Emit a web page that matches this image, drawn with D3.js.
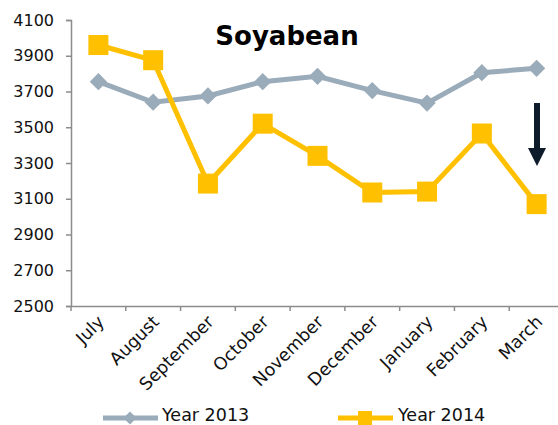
<!DOCTYPE html>
<html lang="en">
<head>
  <meta charset="UTF-8">
  <title>Soyabean</title>
  <style>
    html, body { margin: 0; background: #fff; }
    svg { display: block; }
    svg text { font-family: "DejaVu Sans", sans-serif; }
  </style>
</head>
<body>
  <div id="main"></div>
  <script src="https://cdn.jsdelivr.net/npm/d3@7"></script>
  <script>
    // data
    const months = ['July', 'August', 'September', 'October', 'November', 'December', 'January', 'February', 'March']
    const year2013 = [3755, 3640, 3675, 3755, 3785, 3705, 3635, 3805, 3830]
    const year2014 = [3960, 3875, 3185, 3520, 3340, 3135, 3140, 3465, 3070]
    const yTicks = [2500, 2700, 2900, 3100, 3300, 3500, 3700, 3900, 4100]

    const W = 558, H = 425
    const svg = d3.select('#main').append('svg').attr('width', W).attr('height', H)

    const x = d3.scaleBand().domain(months).range([71, 564])
    const y = d3.scaleLinear().domain([2500, 4100]).range([306, 20])

    // y axis
    const yAxis = svg.append('g').attr('transform', 'translate(71,0)')
      .call(d3.axisLeft(y).tickValues(yTicks).tickFormat(d3.format('d')).tickSize(5).tickPadding(12))
    yAxis.selectAll('text').attr('font-size', 16).attr('fill', '#111')

    // x axis
    const xAxis = svg.append('g').attr('transform', 'translate(0,306)')
      .call(d3.axisBottom(x).tickSize(0))
    xAxis.selectAll('.tick text').remove()
    xAxis.selectAll('.tick line').remove()
    xAxis.selectAll('.xt')
      .data(months.concat(['end']))
      .join('line')
      .attr('x1', (d, i) => i < months.length ? x(d) : x.range()[1])
      .attr('x2', (d, i) => i < months.length ? x(d) : x.range()[1])
      .attr('y1', 0).attr('y2', 5)
    xAxis.selectAll('.xl')
      .data(months)
      .join('text')
      .attr('text-anchor', 'end')
      .attr('font-size', 17.5)
      .attr('fill', '#111')
      .attr('transform', d => `translate(${x(d) + x.bandwidth() / 2 + 7},17) rotate(-45)`)
      .text(d => d)

    svg.selectAll('.domain, line').attr('stroke', '#8c8c8c').attr('stroke-width', 1.5)

    const cx = d => x(d) + x.bandwidth() / 2
    const line = d3.line().x(d => cx(d.m)).y(d => y(d.v))
    const s13 = months.map((m, i) => ({ m, v: year2013[i] }))
    const s14 = months.map((m, i) => ({ m, v: year2014[i] }))

    // Year 2013
    svg.append('path').datum(s13).attr('d', line)
      .attr('fill', 'none').attr('stroke', '#9aabba').attr('stroke-width', 5)
    svg.selectAll('.d13').data(s13).join('path')
      .attr('d', d3.symbol(d3.symbolDiamond2, 190))
      .attr('transform', d => `translate(${cx(d.m)},${y(d.v)})`)
      .attr('fill', '#9aabba')

    // Year 2014
    svg.append('path').datum(s14).attr('d', line)
      .attr('fill', 'none').attr('stroke', '#ffc000').attr('stroke-width', 5)
    svg.selectAll('.s14').data(s14).join('rect')
      .attr('x', d => cx(d.m) - 10).attr('y', d => y(d.v) - 10)
      .attr('width', 20).attr('height', 20)
      .attr('fill', '#ffc000')

    // title
    svg.append('text').attr('x', 287).attr('y', 45)
      .attr('text-anchor', 'middle').attr('font-size', 26).attr('font-weight', 'bold')
      .attr('fill', '#000').text('Soyabean')

    // arrow
    svg.append('line').attr('x1', 537).attr('x2', 537).attr('y1', 103).attr('y2', 150)
      .attr('stroke', '#0d1b2a').attr('stroke-width', 6)
    svg.append('path').attr('d', 'M528,148 L546,148 L537,166 Z').attr('fill', '#0d1b2a')

    // legend
    const leg = svg.append('g')
    leg.append('line').attr('x1', 103).attr('x2', 158).attr('y1', 418).attr('y2', 418)
      .attr('stroke', '#9aabba').attr('stroke-width', 5)
    leg.append('path').attr('d', d3.symbol(d3.symbolDiamond2, 110))
      .attr('transform', 'translate(130,418)').attr('fill', '#9aabba')
    leg.append('text').attr('x', 162).attr('y', 421).attr('font-size', 17.5).attr('fill', '#111').text('Year 2013')
    leg.append('line').attr('x1', 338).attr('x2', 393).attr('y1', 418).attr('y2', 418)
      .attr('stroke', '#ffc000').attr('stroke-width', 5)
    leg.append('rect').attr('x', 358).attr('y', 411).attr('width', 14).attr('height', 14).attr('fill', '#ffc000')
    leg.append('text').attr('x', 398).attr('y', 421).attr('font-size', 17.5).attr('fill', '#111').text('Year 2014')
  </script>
</body>
</html>
